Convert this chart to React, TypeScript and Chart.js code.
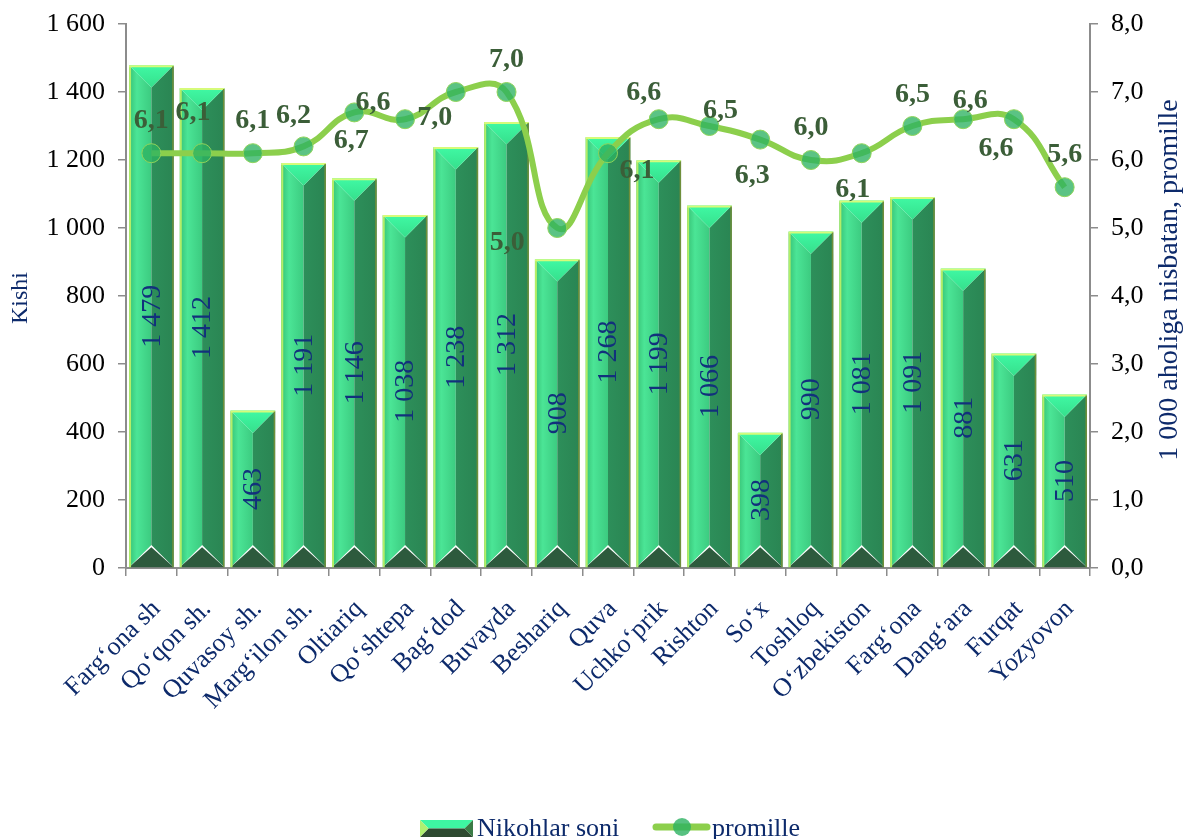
import React, { useEffect, useRef } from 'react';
import { Chart, registerables } from 'chart.js';

Chart.register(...registerables);

const categories = [
  'Fargʻona sh', 'Qoʻqon sh.', 'Quvasoy sh.', 'Margʻilon sh.', 'Oltiariq', 'Qoʻshtepa',
  'Bagʻdod', 'Buvayda', 'Beshariq', 'Quva', 'Uchkoʻprik', 'Rishton', 'Soʻx', 'Toshloq',
  'Oʻzbekiston', 'Fargʻona', 'Dangʻara', 'Furqat', 'Yozyovon',
];
const marriages = [1479, 1412, 463, 1191, 1146, 1038, 1238, 1312, 908, 1268, 1199, 1066, 398, 990, 1081, 1091, 881, 631, 510];
const promille = [6.1, 6.1, 6.1, 6.2, 6.7, 6.6, 7.0, 7.0, 5.0, 6.1, 6.6, 6.5, 6.3, 6.0, 6.1, 6.5, 6.6, 6.6, 5.6];

const leftAxis = { min: 0, max: 1600, step: 200 };
const rightAxis = { min: 0, max: 8, step: 1 };

const barLabel = 'Nikohlar soni';
const lineLabel = 'promille';
const leftTitle = 'Kishi';
const rightTitle = '1 000 aholiga nisbatan, promille';

// label placement (dx, dy) of each promille label relative to its point
const labelOffsets: [number, number][] = [
  [0, -35], [-9, -43], [0, -35], [-10, -33], [-3, 26], [-32, -19], [-21, 23], [0, -35], [-50, 12],
  [29, 15], [-15, -29], [11, -18], [-8, 34], [0, -35], [-9, 34], [0, -34], [7, -21], [-18, 27], [0, -35],
];

const SERIF = '"Liberation Serif", "Times New Roman", serif';
const NAVY = '#0d2a6b';
const LINE_GREEN = '#8ccf4c';
const AXIS_GRAY = '#8c8c8c';

const fmtThousands = (v: number) => String(Math.round(v)).replace(/\B(?=(\d{3})+(?!\d))/g, ' ');
const fmtComma = (v: number) => v.toFixed(1).replace('.', ',');

function drawBevelBar(ctx: CanvasRenderingContext2D, L: number, T: number, R: number, B: number) {
  const w = R - L;
  const cx = (L + R) / 2;
  const h = w / 2;
  ctx.save();
  const gl = ctx.createLinearGradient(L, 0, cx, 0);
  gl.addColorStop(0, '#37c276');
  gl.addColorStop(0.35, '#4be596');
  gl.addColorStop(1, '#3ccb80');
  ctx.fillStyle = gl;
  ctx.beginPath();
  ctx.moveTo(L, T); ctx.lineTo(cx, T + h); ctx.lineTo(cx, B - h); ctx.lineTo(L, B); ctx.closePath();
  ctx.fill();
  const gr = ctx.createLinearGradient(cx, 0, R, 0);
  gr.addColorStop(0, '#2d8f5a');
  gr.addColorStop(1, '#2a8553');
  ctx.fillStyle = gr;
  ctx.beginPath();
  ctx.moveTo(R, T); ctx.lineTo(cx, T + h); ctx.lineTo(cx, B - h); ctx.lineTo(R, B); ctx.closePath();
  ctx.fill();
  const gt = ctx.createLinearGradient(0, T, 0, T + h);
  gt.addColorStop(0, '#40f9a4');
  gt.addColorStop(1, '#36df8c');
  ctx.fillStyle = gt;
  ctx.beginPath();
  ctx.moveTo(L, T); ctx.lineTo(R, T); ctx.lineTo(cx, T + h); ctx.closePath();
  ctx.fill();
  ctx.fillStyle = '#2d5a3d';
  ctx.beginPath();
  ctx.moveTo(L, B); ctx.lineTo(R, B); ctx.lineTo(cx, B - h * 0.9); ctx.closePath();
  ctx.fill();
  ctx.lineWidth = 2;
  ctx.strokeStyle = '#b4ee68';
  ctx.beginPath(); ctx.moveTo(L + 1, B); ctx.lineTo(L + 1, T + 1); ctx.stroke();
  ctx.strokeStyle = '#d6fb7a';
  ctx.beginPath(); ctx.moveTo(L, T + 1); ctx.lineTo(R, T + 1); ctx.stroke();
  ctx.lineWidth = 1.5;
  ctx.strokeStyle = '#6f8f3b';
  ctx.beginPath(); ctx.moveTo(R - 0.75, T + 1); ctx.lineTo(R - 0.75, B); ctx.stroke();
  ctx.restore();
}

const overlayPlugin = {
  id: 'overlay',
  afterDatasetDraw(chart: any, args: any) {
    if (args.index !== 0) return;
    const ctx: CanvasRenderingContext2D = chart.ctx;
    const meta = chart.getDatasetMeta(0);
    meta.data.forEach((el: any) => {
      const p = el.getProps(['x', 'y', 'base', 'width'], true);
      drawBevelBar(ctx, p.x - p.width / 2, p.y, p.x + p.width / 2, p.base);
    });
    ctx.save();
    ctx.fillStyle = '#12307c';
    ctx.font = `28px ${SERIF}`;
    ctx.textAlign = 'center';
    ctx.textBaseline = 'middle';
    meta.data.forEach((el: any, i: number) => {
      const p = el.getProps(['x', 'y', 'base'], true);
      const cy = (p.y + p.base) / 2;
      ctx.save();
      ctx.translate(p.x + 1, cy);
      ctx.rotate(-Math.PI / 2);
      ctx.fillText(fmtThousands(marriages[i]), 0, 0);
      ctx.restore();
    });
    ctx.restore();
  },
  afterDatasetsDraw(chart: any) {
    const ctx: CanvasRenderingContext2D = chart.ctx;
    const meta = chart.getDatasetMeta(1);
    ctx.save();
    ctx.fillStyle = '#3b5e38';
    ctx.font = `bold 28px ${SERIF}`;
    ctx.textAlign = 'center';
    ctx.textBaseline = 'alphabetic';
    meta.data.forEach((el: any, i: number) => {
      const p = el.getProps(['x', 'y'], true);
      const [dx, dy] = labelOffsets[i];
      ctx.fillText(fmtComma(promille[i]), p.x + dx, p.y + dy + 9.5);
    });
    ctx.restore();
  },
  afterDraw(chart: any) {
    const ctx: CanvasRenderingContext2D = chart.ctx;
    ctx.save();
    ctx.fillStyle = NAVY;
    ctx.textAlign = 'center';
    ctx.textBaseline = 'middle';
    ctx.font = `24px ${SERIF}`;
    ctx.save();
    ctx.translate(21, 298);
    ctx.rotate(-Math.PI / 2);
    ctx.fillText(leftTitle, 0, 0);
    ctx.restore();
    ctx.font = `28px ${SERIF}`;
    ctx.save();
    ctx.translate(1170, 280);
    ctx.rotate(-Math.PI / 2);
    ctx.fillText(rightTitle, 0, 0);
    ctx.restore();

    // legend
    const L = 420, T = 820, R = 473, B = 837;
    const hh = (B - T) / 2;
    ctx.fillStyle = '#3ef7a2';
    ctx.beginPath(); ctx.moveTo(L, T); ctx.lineTo(R, T); ctx.lineTo(R - hh, T + hh); ctx.lineTo(L + hh, T + hh); ctx.closePath(); ctx.fill();
    ctx.fillStyle = '#2e4a30';
    ctx.beginPath(); ctx.moveTo(L + hh, T + hh); ctx.lineTo(R - hh, T + hh); ctx.lineTo(R, B); ctx.lineTo(L, B); ctx.closePath(); ctx.fill();
    ctx.fillStyle = '#b0f070';
    ctx.beginPath(); ctx.moveTo(L, T); ctx.lineTo(L + hh, T + hh); ctx.lineTo(L, B); ctx.closePath(); ctx.fill();
    ctx.fillStyle = '#3a7b45';
    ctx.beginPath(); ctx.moveTo(R, T); ctx.lineTo(R, B); ctx.lineTo(R - hh, T + hh); ctx.closePath(); ctx.fill();

    ctx.fillStyle = NAVY;
    ctx.font = `26px ${SERIF}`;
    ctx.textAlign = 'left';
    ctx.textBaseline = 'alphabetic';
    ctx.fillText(barLabel, 477, 836);

    ctx.strokeStyle = LINE_GREEN;
    ctx.lineWidth = 7;
    ctx.lineCap = 'round';
    ctx.beginPath(); ctx.moveTo(656, 827); ctx.lineTo(707, 827); ctx.stroke();
    ctx.fillStyle = 'rgba(45,178,98,0.8)';
    ctx.beginPath(); ctx.arc(682, 827, 9, 0, Math.PI * 2); ctx.fill();
    ctx.fillStyle = NAVY;
    ctx.fillText(lineLabel, 712, 836);
    ctx.restore();
  },
};

const trimPadding = (s: any) => { s.paddingTop = 12; s.paddingBottom = 12; };

export default function App() {
  const ref = useRef<HTMLCanvasElement | null>(null);
  useEffect(() => {
    if (!ref.current) return;
    const chart = new Chart(ref.current, {
      type: 'bar',
      data: {
        labels: categories,
        datasets: [
          {
            type: 'bar',
            label: barLabel,
            data: marriages,
            yAxisID: 'y',
            backgroundColor: 'rgba(0,0,0,0)',
            borderWidth: 0,
            barPercentage: 0.88,
            categoryPercentage: 1.0,
            order: 2,
          },
          {
            type: 'line',
            label: lineLabel,
            data: promille,
            yAxisID: 'y1',
            borderColor: LINE_GREEN,
            borderWidth: 6,
            tension: 0.45,
            pointRadius: 9.5,
            pointBackgroundColor: 'rgba(45,178,98,0.78)',
            pointBorderColor: '#8fd45a',
            pointBorderWidth: 1,
            order: 1,
          } as any,
        ],
      },
      options: {
        animation: false,
        responsive: false,
        devicePixelRatio: 1,
        layout: { padding: { top: 24, left: 0, right: 0, bottom: 0 } },
        plugins: { legend: { display: false }, tooltip: { enabled: false } },
        scales: {
          x: {
            grid: { display: true, drawOnChartArea: false, drawTicks: true, tickLength: 8, color: AXIS_GRAY, lineWidth: 1.5, offset: true },
            border: { display: true, color: AXIS_GRAY, width: 2 },
            ticks: { color: NAVY, font: { family: SERIF, size: 26 }, maxRotation: 45, minRotation: 45, autoSkip: false, padding: 18, labelOffset: 5 },
            afterFit: (s: any) => { s.height = 271; },
          },
          y: {
            position: 'left',
            min: leftAxis.min,
            max: leftAxis.max,
            grid: { drawOnChartArea: false, tickLength: 8, color: AXIS_GRAY, lineWidth: 1.5 },
            border: { display: true, color: AXIS_GRAY, width: 2 },
            ticks: { stepSize: leftAxis.step, color: '#000', font: { family: SERIF, size: 26 }, padding: 13, callback: (v: any) => fmtThousands(Number(v)) },
            afterFit: (s: any) => { s.width = 126; trimPadding(s); },
          },
          y1: {
            position: 'right',
            min: rightAxis.min,
            max: rightAxis.max,
            grid: { drawOnChartArea: false, tickLength: 8, color: AXIS_GRAY, lineWidth: 1.5 },
            border: { display: true, color: AXIS_GRAY, width: 2 },
            ticks: { stepSize: rightAxis.step, color: '#000', font: { family: SERIF, size: 26 }, padding: 13, callback: (v: any) => fmtComma(Number(v)) },
            afterFit: (s: any) => { s.width = 93; trimPadding(s); },
          },
        },
      } as any,
      plugins: [overlayPlugin],
    });
    return () => chart.destroy();
  }, []);
  return (
    <div style={{ position: 'absolute', left: 0, top: 0, width: 1183, height: 839 }}>
      <canvas ref={ref} width={1183} height={839} style={{ display: 'block' }} />
    </div>
  );
}
